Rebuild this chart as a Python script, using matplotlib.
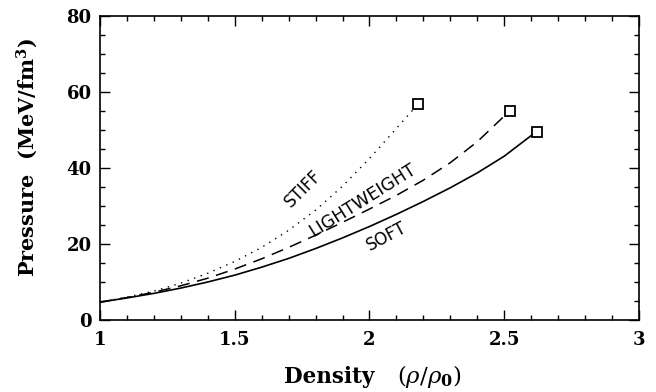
import matplotlib
matplotlib.use("Agg")
import matplotlib.pyplot as plt
from matplotlib.ticker import MultipleLocator

# density (rho/rho0) and pressure (MeV/fm^3)
stiff_x = [1.0, 1.1, 1.2, 1.3, 1.4, 1.5, 1.6, 1.7, 1.8, 1.9, 2.0, 2.1, 2.18]
stiff_p = [4.7, 6.0, 7.6, 9.7, 12.3, 15.4, 19.1, 23.6, 28.9, 35.2, 42.5, 50.4, 56.8]

light_x = [1.0, 1.1, 1.2, 1.3, 1.4, 1.5, 1.6, 1.7, 1.8, 1.9, 2.0, 2.1, 2.2, 2.3, 2.4, 2.52]
light_p = [4.7, 5.9, 7.3, 9.0, 11.0, 13.4, 16.1, 19.1, 22.3, 25.7, 29.2, 32.8, 36.8, 41.4, 46.9, 55.0]

soft_x = [1.0, 1.1, 1.2, 1.3, 1.4, 1.5, 1.6, 1.7, 1.8, 1.9, 2.0, 2.1, 2.2, 2.3, 2.4, 2.5, 2.62]
soft_p = [4.7, 5.8, 7.0, 8.4, 10.0, 11.8, 13.9, 16.2, 18.8, 21.6, 24.6, 27.8, 31.2, 34.8, 38.7, 43.1, 49.6]

serif = "DejaVu Serif"
plt.rcParams["mathtext.fontset"] = "dejavuserif"

fig = plt.figure(figsize=(6.56, 3.92), dpi=100)
ax = fig.add_axes([0.1524, 0.1837, 0.8216, 0.7755])

ax.plot(stiff_x, stiff_p, color="black", lw=1.0, linestyle=(0, (1, 4)))
ax.plot(light_x, light_p, color="black", lw=1.1, linestyle=(0, (8, 5)))
ax.plot(soft_x, soft_p, color="black", lw=1.2)

# end points (open squares)
ends_x = [stiff_x[-1], light_x[-1], soft_x[-1]]
ends_p = [stiff_p[-1], light_p[-1], soft_p[-1]]
ax.plot(ends_x, ends_p, linestyle="none", marker="s", ms=6.5,
        mfc="white", mec="black", mew=1.3)

ax.text(1.755, 34.5, "STIFF", rotation=45, ha="center", va="center", fontsize=12)
ax.text(1.975, 31.6, "LIGHTWEIGHT", rotation=32, ha="center", va="center", fontsize=12.5)
ax.text(2.065, 22.0, "SOFT", rotation=28, ha="center", va="center", fontsize=12)

ax.set_xlim(1, 3)
ax.set_ylim(0, 80)
ax.xaxis.set_major_locator(MultipleLocator(0.5))
ax.xaxis.set_minor_locator(MultipleLocator(0.1))
ax.yaxis.set_major_locator(MultipleLocator(20))
ax.yaxis.set_minor_locator(MultipleLocator(5))
ax.set_xticks([1, 1.5, 2, 2.5, 3])
ax.set_xticklabels(["1", "1.5", "2", "2.5", "3"])
ax.tick_params(which="both", direction="in", top=True, right=True, width=1.0)
ax.tick_params(which="major", length=7)
ax.tick_params(axis="x", which="major", pad=8)
ax.tick_params(axis="y", which="major", pad=6)
ax.tick_params(which="minor", length=3.5)
for lab in ax.get_xticklabels() + ax.get_yticklabels():
    lab.set_fontfamily(serif)
    lab.set_fontweight("bold")
    lab.set_fontsize(13)
for s in ax.spines.values():
    s.set_linewidth(1.2)

# x label: word and ratio drawn as two pieces so the ratio can be larger
ax.text(0.510, -0.207, "Density", transform=ax.transAxes, ha="right",
        va="baseline", fontfamily=serif, fontweight="bold", fontsize=15.5)
ax.text(0.551, -0.207, r"$(\rho/\rho_\mathbf{0})$", transform=ax.transAxes,
        ha="left", va="baseline", fontsize=16.5)

ax.set_ylabel(r"Pressure  (MeV/fm$^\mathbf{3}$)", fontfamily=serif,
              fontweight="bold", fontsize=15)
ax.yaxis.set_label_coords(-0.112, 0.535)

fig.savefig("out.png", dpi=100)
